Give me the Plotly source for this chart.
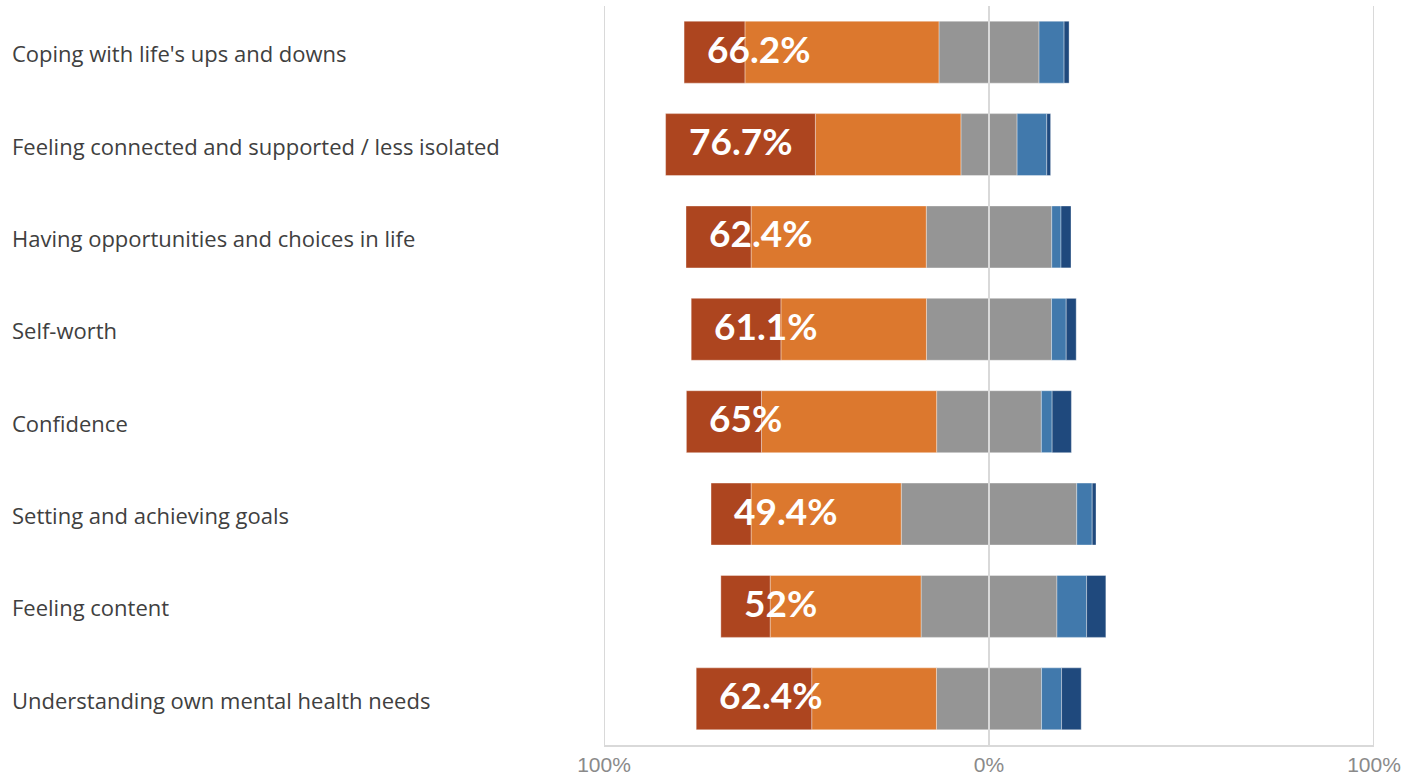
import plotly.graph_objects as go

# Outcome areas, listed top to bottom
categories = [
    "Coping with life's ups and downs",
    "Feeling connected and supported / less isolated",
    "Having opportunities and choices in life",
    "Self-worth",
    "Confidence",
    "Setting and achieving goals",
    "Feeling content",
    "Understanding own mental health needs",
]

# Percent of respondents per response level (each row sums to 100)
much_better = [15.8, 38.9, 16.9, 23.3, 19.5, 10.4, 12.8, 30.0]
better = [50.4, 37.8, 45.5, 37.8, 45.5, 39.0, 39.2, 32.4]
no_change = [26.0, 14.6, 32.6, 32.5, 27.2, 45.6, 35.3, 27.3]
worse = [6.5, 7.7, 2.4, 3.8, 2.8, 4.0, 7.7, 5.2]
much_worse = [1.3, 1.0, 2.6, 2.6, 5.0, 1.0, 5.0, 5.1]

improved = [round(a + b, 1) for a, b in zip(much_better, better)]
improved_labels = [f"{v:g}%" for v in improved]

C_MUCH_BETTER = "#AD451F"
C_BETTER = "#DC782E"
C_NEUTRAL = "#959595"
C_WORSE = "#4179AC"
C_MUCH_WORSE = "#1F497D"
C_GRID = "#d9d9d9"

edge = dict(color="rgba(255,255,255,0.35)", width=1)

fig = go.Figure()
# Negative side: stacked outward from zero (neutral half, better, much better)
fig.add_bar(y=categories, x=[-v / 2 for v in no_change], orientation="h",
            marker=dict(color=C_NEUTRAL, line=edge), name="No change")
fig.add_bar(y=categories, x=[-v for v in better], orientation="h",
            marker=dict(color=C_BETTER, line=edge), name="Better")
fig.add_bar(y=categories, x=[-v for v in much_better], orientation="h",
            marker=dict(color=C_MUCH_BETTER, line=edge), name="Much better")
# Positive side: neutral half, worse, much worse
fig.add_bar(y=categories, x=[v / 2 for v in no_change], orientation="h",
            marker=dict(color=C_NEUTRAL, line=edge), name="No change", showlegend=False)
fig.add_bar(y=categories, x=worse, orientation="h",
            marker=dict(color=C_WORSE, line=edge), name="Worse")
fig.add_bar(y=categories, x=much_worse, orientation="h",
            marker=dict(color=C_MUCH_WORSE, line=edge), name="Much worse")

annotations = []
for cat, mb, b, n, lab in zip(categories, much_better, better, no_change, improved_labels):
    left = -(mb + b + n / 2)
    annotations.append(dict(
        x=left, y=cat, xref="x", yref="y", text=lab, showarrow=False,
        xanchor="left", yanchor="middle", xshift=21, yshift=4,
        font=dict(family="Lato", size=37, color="white", weight="bold"),
    ))
    annotations.append(dict(
        x=-0.7714, y=cat, xref="paper", yref="y", text=cat, showarrow=False,
        xanchor="left", yanchor="middle", yshift=-1,
        font=dict(family="Open Sans", size=22, color="#404040"),
    ))

# Vertical reference lines at -100%, 0% and 100%, drawn over the bars at 0
shapes = [
    dict(type="line", xref="x", yref="paper", x0=v, x1=v, y0=0, y1=1,
         layer="above" if v == 0 else "below", line=dict(color=C_GRID, width=2))
    for v in (-100, 0, 100)
]

fig.update_layout(
    barmode="relative",
    bargap=0.33,
    width=1405,
    height=776,
    margin=dict(l=604, r=31, t=6, b=31, autoexpand=False),
    plot_bgcolor="white",
    paper_bgcolor="white",
    showlegend=False,
    annotations=annotations,
    shapes=shapes,
    xaxis=dict(
        range=[-100, 100],
        tickvals=[-100, 0, 100],
        ticktext=["100%", "0%", "100%"],
        showgrid=False,
        zeroline=False,
        showline=True, linecolor=C_GRID, linewidth=2,
        tickfont=dict(family="Liberation Sans", size=21, color="#8a8a8a"),
        ticks="", automargin=False, fixedrange=True,
    ),
    yaxis=dict(
        categoryorder="array", categoryarray=categories,
        autorange="reversed", showticklabels=False,
        showgrid=False, zeroline=False, automargin=False, fixedrange=True,
    ),
)

fig.write_html("out.html")
